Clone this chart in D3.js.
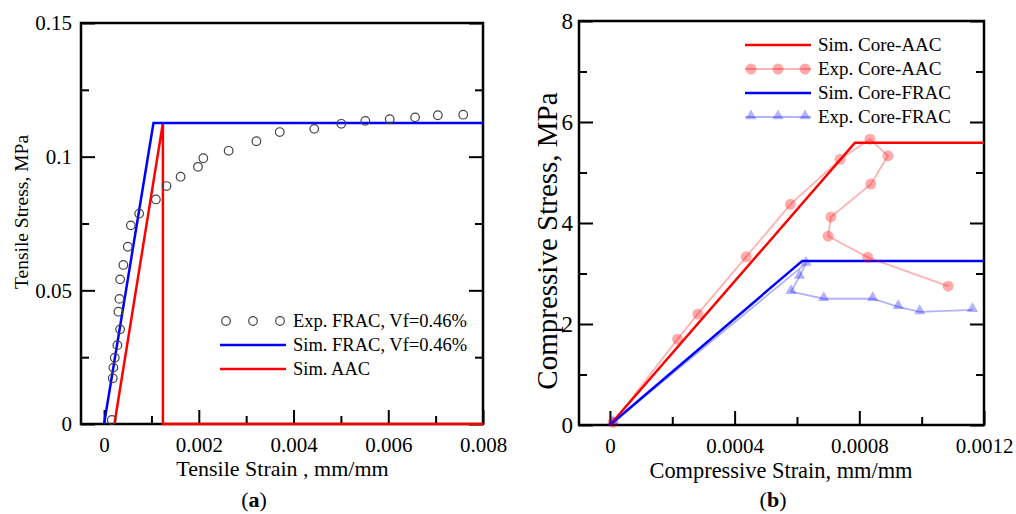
<!DOCTYPE html>
<html>
<head>
<meta charset="utf-8">
<script src="https://cdn.jsdelivr.net/npm/d3@7"></script>
<style>
    body { margin: 0; background: #fff; }
    svg text { font-family: "Liberation Serif", "Times New Roman", serif; fill: #000; }
</style>
</head>
<body>
<div id="chart-area"></div>
<script>
// ---- data, (a) tensile ----
var tensExpStrain = [0.000163, 0.000184, 0.000197, 0.000226, 0.000281, 0.000339, 0.000303, 0.000324, 0.000339,
    0.000408, 0.000501, 0.000565, 0.000741, 0.001094, 0.001318, 0.001615, 0.001983, 0.002095, 0.002630,
    0.003216, 0.003709, 0.004437, 0.005008, 0.005516, 0.006031, 0.006566, 0.007046, 0.007582];
var tensExpStress = [0.0015, 0.0171, 0.0211, 0.0248, 0.0295, 0.0354, 0.0420, 0.0468, 0.0541,
    0.0595, 0.0663, 0.0743, 0.0787, 0.0840, 0.0890, 0.0925, 0.0962, 0.0994, 0.1022,
    0.1058, 0.1092, 0.1104, 0.1123, 0.1134, 0.1140, 0.1147, 0.1155, 0.1157];
var tensSimFracStrain = [0, 0.001043, 0.008];
var tensSimFracStress = [0, 0.1126, 0.1126];
var tensSimAacStrain = [0.000218, 0.001242, 0.001242, 0.008];
var tensSimAacStress = [0, 0.1126, 0, 0];

var tensXTicks = [0, 0.002, 0.004, 0.006, 0.008];
var tensXLabels = ["0", "0.002", "0.004", "0.006", "0.008"];
var tensXMinor = [0.001, 0.003, 0.005, 0.007];
var tensYTicks = [0, 0.05, 0.1, 0.15];
var tensYLabels = ["0", "0.05", "0.1", "0.15"];
var tensYMinor = [0.025, 0.075, 0.125];

// ---- data, (b) compressive ----
var compSimAacStrain = [0, 0.000786, 0.0012];
var compSimAacStress = [0, 5.59, 5.59];
var compSimFracStrain = [0, 0.000617, 0.0012];
var compSimFracStress = [0, 3.25, 3.25];
var compExpAacStrain = [0.00001, 0.000217, 0.000282, 0.000437, 0.000579, 0.000738, 0.000834, 0.000892,
    0.000837, 0.000709, 0.000700, 0.000827, 0.001085];
var compExpAacStress = [0.05, 1.70, 2.20, 3.33, 4.37, 5.26, 5.66, 5.33, 4.77, 4.12, 3.74, 3.32, 2.75];
var compExpFracStrain = [0.00001, 0.000629, 0.000608, 0.000581, 0.000686, 0.000843, 0.000925, 0.000994, 0.001163];
var compExpFracStress = [0.05, 3.20, 2.94, 2.64, 2.50, 2.50, 2.34, 2.24, 2.28];

var compXTicks = [0, 0.0004, 0.0008, 0.0012];
var compXLabels = ["0", "0.0004", "0.0008", "0.0012"];
var compXMinor = [0.0002, 0.0006, 0.001];
var compYTicks = [0, 2, 4, 6, 8];
var compYLabels = ["0", "2", "4", "6", "8"];
var compYMinor = [1, 3, 5, 7];

var fontFam = "'Liberation Serif', 'Times New Roman', serif";

var svg = d3.select("#chart-area")
    .append("svg")
    .attr("width", 1016)
    .attr("height", 514);

// frame, inward ticks on left/right/bottom, labels on left/bottom
function drawAxes(x, y, xt, xl, xm, yt, yl, ym, yPad, yFont) {
    var x0 = x.range()[0], x1 = x.range()[1], y0 = y.range()[0], y1 = y.range()[1];
    var ax = svg.append("g");

    function clean(s) { s.select(".domain").remove(); s.selectAll(".tick line").attr("stroke", "#000").attr("stroke-width", 2); }

    ax.append("g").attr("transform", "translate(0," + y0 + ")")
        .call(d3.axisBottom(x).tickValues(xt).tickFormat(function(d, i){ return xl[i]; })
            .tickSizeInner(-14).tickSizeOuter(0).tickPadding(13))
        .attr("font-size", 21).attr("font-family", fontFam)
        .call(clean);
    ax.append("g").attr("transform", "translate(0," + y0 + ")")
        .call(d3.axisBottom(x).tickValues(xm).tickFormat("").tickSizeInner(-8).tickSizeOuter(0))
        .call(clean);

    ax.append("g").attr("transform", "translate(" + x0 + ",0)")
        .call(d3.axisLeft(y).tickValues(yt).tickFormat(function(d, i){ return yl[i]; })
            .tickSizeInner(-14).tickSizeOuter(0).tickPadding(yPad))
        .attr("font-size", yFont).attr("font-family", fontFam)
        .call(clean);
    ax.append("g").attr("transform", "translate(" + x0 + ",0)")
        .call(d3.axisLeft(y).tickValues(ym).tickFormat("").tickSizeInner(-8).tickSizeOuter(0))
        .call(clean);

    ax.append("g").attr("transform", "translate(" + x1 + ",0)")
        .call(d3.axisRight(y).tickValues(yt).tickFormat("").tickSizeInner(-14).tickSizeOuter(0))
        .call(clean);
    ax.append("g").attr("transform", "translate(" + x1 + ",0)")
        .call(d3.axisRight(y).tickValues(ym).tickFormat("").tickSizeInner(-8).tickSizeOuter(0))
        .call(clean);

    svg.append("rect")
        .attr("x", x0).attr("y", y1)
        .attr("width", x1 - x0).attr("height", y0 - y1)
        .attr("fill", "none")
        .attr("stroke", "#000")
        .attr("stroke-width", 2.5);
}

function addText(txt, x, y, size, anchor, rot) {
    var t = svg.append("text")
        .attr("font-size", size)
        .attr("text-anchor", anchor || "middle");
    if (rot) t.attr("transform", "translate(" + x + "," + y + ") rotate(-90)");
    else t.attr("x", x).attr("y", y);
    t.text(txt);
    return t;
}

// =================== (a) ===================
var xA = d3.scaleLinear().domain([-0.000487, 0.008]).range([81, 483]);
var yA = d3.scaleLinear().domain([0, 0.15]).range([424, 23]);

drawAxes(xA, yA, tensXTicks, tensXLabels, tensXMinor, tensYTicks, tensYLabels, tensYMinor, 9, 21);

var lineA = d3.line()
    .x(function(d){ return xA(d[0]); })
    .y(function(d){ return yA(d[1]); });

svg.append("path")
    .attr("d", lineA(d3.zip(tensSimAacStrain, tensSimAacStress)))
    .attr("fill", "none").attr("stroke", "#ff0000").attr("stroke-width", 2.5);
svg.append("path")
    .attr("d", lineA(d3.zip(tensSimFracStrain, tensSimFracStress)))
    .attr("fill", "none").attr("stroke", "#0000ff").attr("stroke-width", 2.5);

svg.append("g").selectAll("circle")
    .data(d3.zip(tensExpStrain, tensExpStress))
    .enter().append("circle")
    .attr("cx", function(d){ return xA(d[0]); })
    .attr("cy", function(d){ return yA(d[1]); })
    .attr("r", 4.3)
    .attr("fill", "none")
    .attr("stroke", "#444")
    .attr("stroke-width", 1.2);

// legend (a)
[226, 253, 280].forEach(function(cx){
    svg.append("circle").attr("cx", cx).attr("cy", 321).attr("r", 4.3)
        .attr("fill", "none").attr("stroke", "#444").attr("stroke-width", 1.2);
});
svg.append("line").attr("x1", 220).attr("x2", 286).attr("y1", 345).attr("y2", 345)
    .attr("stroke", "#0000ff").attr("stroke-width", 2.5);
svg.append("line").attr("x1", 220).attr("x2", 286).attr("y1", 369).attr("y2", 369)
    .attr("stroke", "#ff0000").attr("stroke-width", 2.5);
addText("Exp. FRAC, Vf=0.46%", 293, 327, 18.5, "start");
addText("Sim. FRAC, Vf=0.46%", 293, 351, 18.5, "start");
addText("Sim. AAC", 293, 375, 18.5, "start");

addText("Tensile Strain , mm/mm", 282.5, 476, 22);
addText("Tensile Stress, MPa", 28, 212, 19.5, "middle", true);
var capA = addText("(", 254, 507, 22);
capA.append("tspan").attr("font-weight", "bold").text("a");
capA.append("tspan").text(")");

// =================== (b) ===================
var xB = d3.scaleLinear().domain([-0.0000992, 0.0012]).range([579, 984]);
var yB = d3.scaleLinear().domain([0, 8]).range([425, 21]);

drawAxes(xB, yB, compXTicks, compXLabels, compXMinor, compYTicks, compYLabels, compYMinor, 6, 23);

var lineB = d3.line()
    .x(function(d){ return xB(d[0]); })
    .y(function(d){ return yB(d[1]); });

svg.append("path")
    .attr("d", lineB(d3.zip(compSimAacStrain, compSimAacStress)))
    .attr("fill", "none").attr("stroke", "#ff0000").attr("stroke-width", 2.5);
svg.append("path")
    .attr("d", lineB(d3.zip(compSimFracStrain, compSimFracStress)))
    .attr("fill", "none").attr("stroke", "#0000ff").attr("stroke-width", 2.5);

// experimental curves, translucent
svg.append("path")
    .attr("d", lineB(d3.zip(compExpAacStrain, compExpAacStress)))
    .attr("fill", "none").attr("stroke", "#ff0000").attr("stroke-opacity", 0.3).attr("stroke-width", 1.8);
svg.append("g").selectAll("circle")
    .data(d3.zip(compExpAacStrain, compExpAacStress))
    .enter().append("circle")
    .attr("cx", function(d){ return xB(d[0]); })
    .attr("cy", function(d){ return yB(d[1]); })
    .attr("r", 5.5)
    .attr("fill", "#ff0000").attr("fill-opacity", 0.33);

var tri = d3.symbol().type(d3.symbolTriangle).size(55);
svg.append("path")
    .attr("d", lineB(d3.zip(compExpFracStrain, compExpFracStress)))
    .attr("fill", "none").attr("stroke", "#0000ff").attr("stroke-opacity", 0.3).attr("stroke-width", 1.8);
svg.append("g").selectAll("path")
    .data(d3.zip(compExpFracStrain, compExpFracStress))
    .enter().append("path")
    .attr("d", tri)
    .attr("transform", function(d){ return "translate(" + xB(d[0]) + "," + (yB(d[1]) - 1) + ")"; })
    .attr("fill", "#0000ff").attr("fill-opacity", 0.3);

// legend (b)
svg.append("line").attr("x1", 745).attr("x2", 811).attr("y1", 45).attr("y2", 45)
    .attr("stroke", "#ff0000").attr("stroke-width", 2.5);
svg.append("line").attr("x1", 745).attr("x2", 811).attr("y1", 69).attr("y2", 69)
    .attr("stroke", "#ff0000").attr("stroke-opacity", 0.3).attr("stroke-width", 1.8);
[751, 778, 805].forEach(function(cx){
    svg.append("circle").attr("cx", cx).attr("cy", 69).attr("r", 5.5)
        .attr("fill", "#ff0000").attr("fill-opacity", 0.33);
});
svg.append("line").attr("x1", 745).attr("x2", 811).attr("y1", 93).attr("y2", 93)
    .attr("stroke", "#0000ff").attr("stroke-width", 2.5);
svg.append("line").attr("x1", 745).attr("x2", 811).attr("y1", 117).attr("y2", 117)
    .attr("stroke", "#0000ff").attr("stroke-opacity", 0.3).attr("stroke-width", 1.8);
[751, 778, 805].forEach(function(cx){
    svg.append("path").attr("d", tri).attr("transform", "translate(" + cx + ",116)")
        .attr("fill", "#0000ff").attr("fill-opacity", 0.3);
});
addText("Sim. Core-AAC", 818, 51, 19, "start");
addText("Exp. Core-AAC", 818, 75, 19, "start");
addText("Sim. Core-FRAC", 818, 99, 19, "start");
addText("Exp. Core-FRAC", 818, 123, 19, "start");

addText("Compressive Strain, mm/mm", 781, 478, 22.4);
addText("Compressive Stress, MPa", 557, 241, 29, "middle", true);
var capB = addText("(", 773, 507, 22);
capB.append("tspan").attr("font-weight", "bold").text("b");
capB.append("tspan").text(")");
</script>
</body>
</html>
